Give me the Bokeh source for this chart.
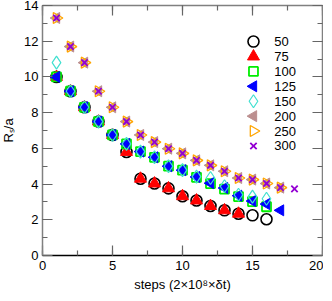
import numpy as np
from bokeh.plotting import figure
from bokeh.models import (LinearAxis, SingleIntervalTicker, Range1d,
                          CustomLabelingPolicy)
from bokeh.core.properties import value
from bokeh.embed import file_html
from bokeh.resources import INLINE

# ---------------- data ----------------
x_50 = list(range(1, 17))
y_50 = [10.0, 9.2, 8.3, 7.5, 6.75, 5.8, 4.3, 4.03, 3.76, 3.32, 3.08, 2.77, 2.53, 2.34, 2.25, 2.03]

x_75 = list(range(1, 15))
y_75 = [10.0, 9.2, 8.3, 7.5, 6.75, 5.8, 4.3, 4.03, 3.76, 3.32, 3.08, 2.77, 2.53, 2.34]

x_100 = list(range(1, 17))
y_100 = [10.0, 9.2, 8.3, 7.5, 6.75, 6.25, 5.82, 5.5, 5.0, 4.78, 4.38, 4.03, 3.72, 3.3, 3.02, 2.73]

x_125 = list(range(1, 18))
y_125 = [10.0, 9.2, 8.3, 7.5, 6.75, 6.25, 5.82, 5.5, 5.0, 4.78, 4.4, 4.05, 3.78, 3.35, 3.05, 2.88, 2.53]

x_150 = list(range(1, 17))
y_150 = [10.8, 9.2, 8.3, 7.5, 6.75, 6.25, 5.82, 5.5, 5.0, 4.78, 4.42, 4.34, 3.88, 3.4, 3.3, 3.18]

x_200 = list(range(1, 18))
y_200 = [13.3, 11.7, 10.8, 9.2, 8.3, 7.5, 6.75, 6.35, 5.98, 5.72, 5.33, 5.05, 4.72, 4.34, 4.25, 4.03, 3.8]

x_250 = list(range(1, 18))
y_250 = [13.3, 11.7, 10.8, 9.2, 8.3, 7.5, 6.75, 6.35, 5.98, 5.72, 5.33, 5.05, 4.72, 4.34, 4.25, 4.03, 3.8]

x_300 = list(range(1, 19))
y_300 = [13.3, 11.7, 10.8, 9.2, 8.3, 7.5, 6.75, 6.35, 5.98, 5.72, 5.33, 5.05, 4.72, 4.34, 4.25, 4.03, 3.8, 3.73]

labels = ["50", "75", "100", "125", "150", "200", "250", "300"]
xs = [x_50, x_75, x_100, x_125, x_150, x_200, x_250, x_300]
ys = [y_50, y_75, y_100, y_125, y_150, y_200, y_250, y_300]

FONT = "Liberation Sans"
FS = "13px"

p = figure(frame_width=280, frame_height=250, output_backend="svg", toolbar_location=None,
           x_range=Range1d(0, 20), y_range=Range1d(0, 14),
           min_border_left=39, min_border_right=1, min_border_top=8,
           min_border_bottom=30, x_axis_location=None, y_axis_location=None,
           styles={"margin-top": "-3px", "margin-left": "-2px", "margin-bottom": "-8px"})
p.xgrid.grid_line_color = None
p.ygrid.grid_line_color = None
p.outline_line_color = None
p.background_fill_color = "white"
p.border_fill_color = "white"

hide_labels = CustomLabelingPolicy(code="""
try { for (let i = 0; i < indices.size; i++) indices.unset(i) } catch (e) {}
return indices
""")


def style_axis(ax, line_color, show_labels):
    ax.major_tick_in = 10
    ax.major_tick_out = 0
    ax.minor_tick_in = 5
    ax.minor_tick_out = 0
    ax.axis_line_color = line_color
    ax.axis_line_width = 1.5
    ax.major_tick_line_color = "#666666"
    ax.minor_tick_line_color = "#666666"
    ax.major_tick_line_width = 1.2
    ax.minor_tick_line_width = 1.2
    ax.major_label_text_font = FONT
    ax.major_label_text_color = "black"
    ax.axis_label_text_font = FONT
    ax.axis_label_text_font_style = "normal"
    ax.axis_label_text_font_size = FS
    ax.axis_label_text_color = "black"
    if show_labels:
        ax.major_label_text_font_size = FS
    else:
        ax.major_label_text_font_size = "0px"
        ax.major_label_standoff = 0
        ax.axis_label_standoff = 0
        ax.major_label_policy = hide_labels


xb = LinearAxis(ticker=SingleIntervalTicker(interval=5, num_minor_ticks=2),
                axis_label="steps (2×10⁸×δt)")
style_axis(xb, "black", True)
xb.major_label_standoff = 5
xb.axis_label_standoff = 4
p.add_layout(xb, "below")

yl = LinearAxis(ticker=SingleIntervalTicker(interval=2, num_minor_ticks=2),
                axis_label="Rₛ/a")
style_axis(yl, "#808080", True)
yl.major_label_standoff = 4
yl.axis_label_standoff = 5
p.add_layout(yl, "left")

xtop = LinearAxis(ticker=SingleIntervalTicker(interval=5, num_minor_ticks=2))
style_axis(xtop, "#808080", False)
p.add_layout(xtop, "above")

yr = LinearAxis(ticker=SingleIntervalTicker(interval=2, num_minor_ticks=2))
style_axis(yr, "#808080", False)
p.add_layout(yr, "right")

marker_styles = [
    dict(marker="circle", size=11, fill_color=None, line_color="black", line_width=1.6),
    dict(marker="triangle", size=12, fill_color="#ff0000", line_color="#ff0000", line_width=1),
    dict(marker="square", size=9, fill_color=None, line_color="#00ee00", line_width=1.8),
    dict(marker="triangle", angle=np.pi / 2, size=11, fill_color="#0000ff",
         line_color="#0000ff", line_width=1),
    dict(marker="diamond", size=13, fill_color=None, line_color="#40e0d0", line_width=1.2),
    dict(marker="triangle", angle=np.pi / 2, size=11, fill_color="#bc8f8f",
         line_color="#bc8f8f", line_width=1),
    dict(marker="triangle", angle=-np.pi / 2, size=11, fill_color=None,
         line_color="#ffa500", line_width=1.3),
    dict(marker="x", size=9, fill_color=None, line_color="#9400d3", line_width=1.8),
]

for xx, yy, st in zip(xs, ys, marker_styles):
    p.scatter(xx, yy, **st)

# legend (key column at top right of the frame)
leg_x, leg_tx, leg_y0, leg_dy = 15.07, 16.55, 11.98, 0.835
leg_y = [leg_y0 - i * leg_dy for i in range(len(labels))]
for yy, st in zip(leg_y, marker_styles):
    p.scatter([leg_x], [yy], **st)
p.text(x=[leg_tx] * len(labels), y=leg_y, text=labels,
       text_font=value(FONT), text_font_size=FS, text_color="black",
       text_align="left", text_baseline="middle")

open("out.html", "w").write(file_html(p, INLINE))
